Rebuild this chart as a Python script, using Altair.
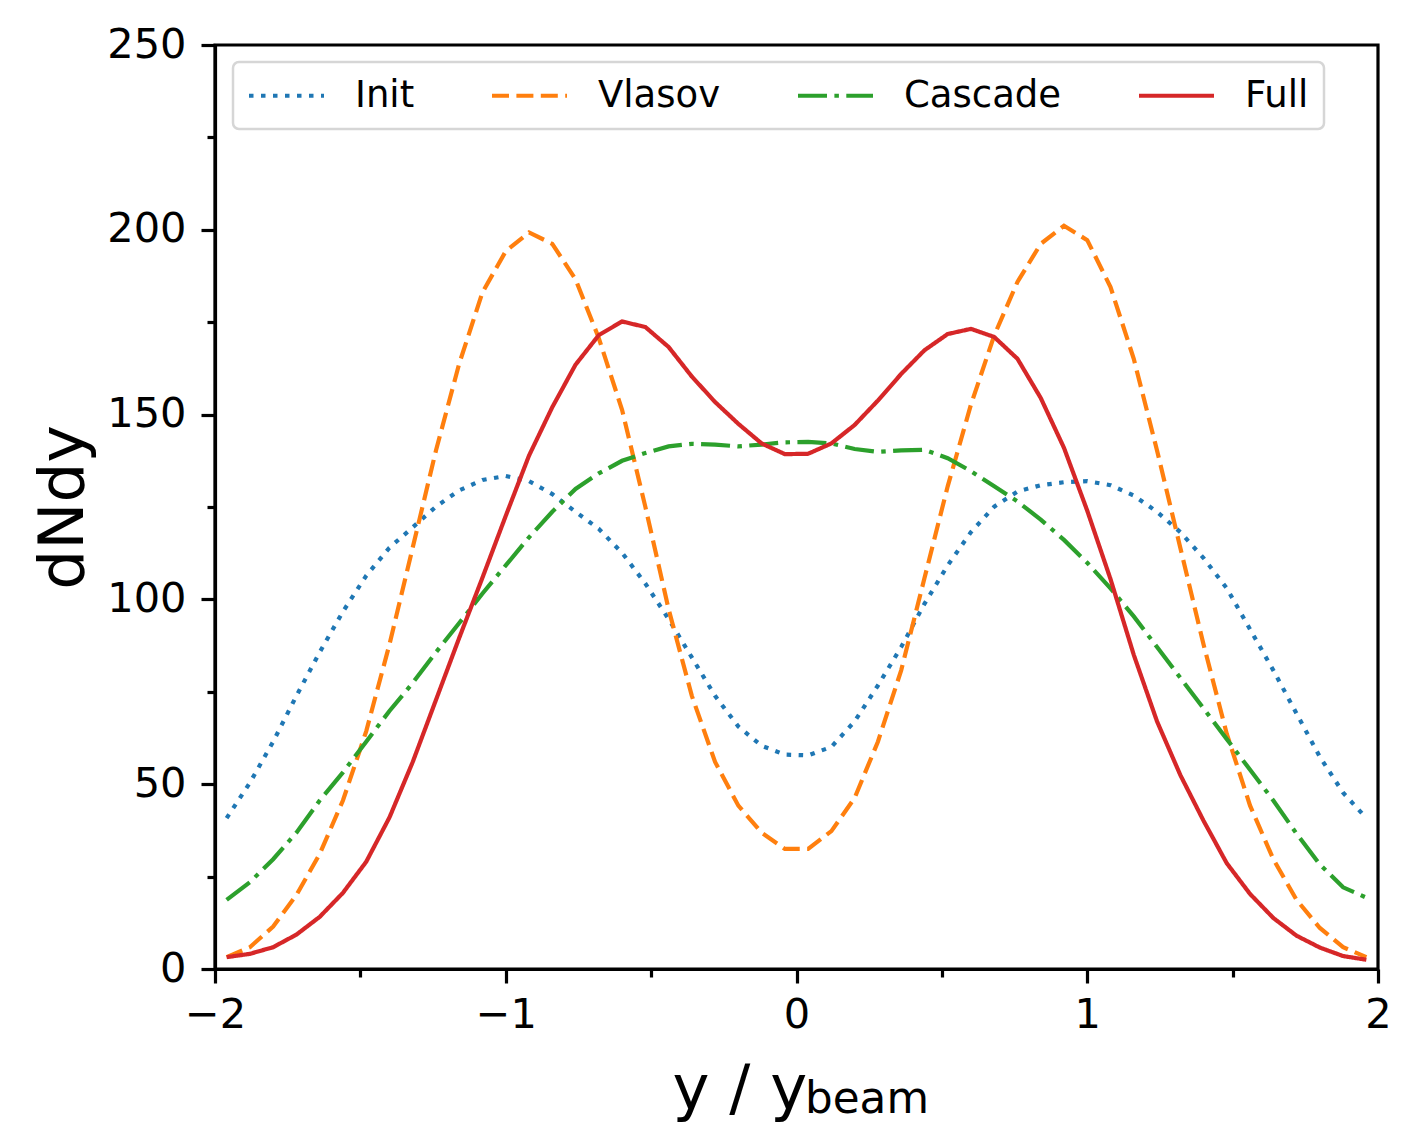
import altair as alt
import pandas as pd

x_vals = [-1.96, -1.88, -1.80, -1.72, -1.64, -1.56, -1.48, -1.40, -1.32, -1.24,
          -1.16, -1.08, -1.00, -0.92, -0.84, -0.76, -0.68, -0.60, -0.52, -0.44,
          -0.36, -0.28, -0.20, -0.12, -0.04, 0.04, 0.12, 0.20, 0.28, 0.36,
          0.44, 0.52, 0.60, 0.68, 0.76, 0.84, 0.92, 1.00, 1.08, 1.16,
          1.24, 1.32, 1.40, 1.48, 1.56, 1.64, 1.72, 1.80, 1.88, 1.96]

init_vals = [40.8, 50.4, 61.5, 73.9, 85.7, 96.7, 106.4, 114.0, 119.5, 125.1,
             129.5, 132.3, 133.4, 132.0, 128.5, 123.7, 119.1, 112.6, 104.3, 94.7,
             84.3, 73.9, 65.6, 60.4, 58.0, 57.8, 60.1, 67.0, 76.7, 87.1,
             98.8, 109.2, 118.2, 125.1, 129.2, 130.9, 131.7, 132.0, 130.9, 128.1,
             123.7, 118.2, 111.2, 103.0, 91.9, 80.8, 69.1, 57.4, 47.7, 40.8]

vlasov_vals = [3.2, 5.9, 11.5, 20.0, 31.1, 45.6, 64.3, 87.8, 114.0, 140.3,
               163.8, 183.1, 194.2, 199.3, 196.2, 186.6, 170.7, 151.3, 125.1, 97.4,
               73.9, 56.0, 44.2, 36.9, 32.5, 32.5, 37.3, 46.3, 61.5, 80.8,
               105.7, 130.6, 152.7, 171.4, 185.9, 196.2, 201.1, 197.2, 184.5, 165.1,
               140.3, 114.0, 87.8, 63.6, 44.2, 29.7, 18.7, 11.1, 5.9, 3.2]

cascade_vals = [18.7, 23.5, 29.7, 36.9, 45.6, 53.2, 61.5, 69.8, 77.4, 85.7,
                93.6, 101.6, 109.2, 116.8, 123.7, 129.9, 134.1, 137.5, 139.6, 141.4,
                142.1, 141.9, 141.4, 141.9, 142.5, 142.6, 142.2, 140.7, 139.9, 140.3,
                140.5, 138.2, 134.7, 130.6, 126.5, 121.6, 116.1, 109.9, 103.0, 95.4,
                87.1, 78.8, 70.5, 62.2, 53.9, 45.6, 36.6, 28.3, 22.1, 19.3]

full_vals = [3.2, 4.1, 5.9, 9.3, 14.1, 20.6, 29.0, 41.0, 56.0, 72.8,
             89.6, 105.9, 122.6, 138.9, 152.0, 163.5, 171.5, 175.2, 173.7, 168.3,
             160.3, 153.4, 147.5, 142.2, 139.3, 139.4, 142.2, 147.2, 153.8, 161.0,
             167.4, 171.8, 173.2, 171.0, 165.1, 154.5, 141.0, 124.0, 105.5, 85.0,
             67.0, 52.5, 40.1, 28.6, 20.3, 13.8, 9.0, 5.8, 3.5, 2.5]

series_names = ["Init", "Vlasov", "Cascade", "Full"]
series_colors = ["#1f77b4", "#ff7f0e", "#2ca02c", "#d62728"]
series_dashes = [[4.5, 7.5], [17, 7.4], [29, 7.4, 4.5, 7.4], [1, 0]]

x_major = [-2, -1, 0, 1, 2]
x_minor = [-1.5, -0.5, 0.5, 1.5]
y_major = [0, 50, 100, 150, 200, 250]
y_minor = [25, 75, 125, 175, 225]

rows = []
for name, vals in zip(series_names, [init_vals, vlasov_vals, cascade_vals, full_vals]):
    for xv, yv in zip(x_vals, vals):
        rows.append({"x": xv, "y": yv, "series": name})
df = pd.DataFrame(rows)

FONT = "DejaVu Sans"
W, H = 1163, 924

xscale = alt.Scale(domain=[-2, 2], nice=False, zero=False)
yscale = alt.Scale(domain=[0, 250], nice=False, zero=False)


def make_legend():
    return alt.Legend(title=None, orient="none", legendX=18, legendY=17,
                      direction="horizontal", symbolType="M-3,0H3",
                      symbolSize=625, symbolStrokeWidth=4.2,
                      labelFontSize=37, labelFont=FONT, labelColor="black",
                      labelLimit=0, columnPadding=68, labelOffset=50,
                      padding=15, symbolOffset=20, strokeColor="#d6d6d6",
                      fillColor="white", cornerRadius=6)


lines = alt.Chart(df).mark_line(strokeWidth=4.2, strokeCap="butt", clip=True).encode(
    x=alt.X("x:Q", scale=xscale,
            axis=alt.Axis(values=x_major, format="d", title="y / y", orient="bottom",
                          titleX=457, titleY=139, titleAlign="left",
                          titleBaseline="alphabetic", titleFontSize=62.5,
                          titleFontWeight="normal", titleFont=FONT)),
    y=alt.Y("y:Q", scale=yscale,
            axis=alt.Axis(values=y_major, format="d", title="dNdy", orient="left",
                          titleX=-133, titleY=462, titleAngle=270,
                          titleAlign="center", titleBaseline="alphabetic",
                          titleFontSize=63, titleFontWeight="normal",
                          titleFont=FONT)),
    color=alt.Color("series:N", scale=alt.Scale(domain=series_names, range=series_colors),
                    sort=series_names, legend=make_legend()),
    strokeDash=alt.StrokeDash("series:N",
                              scale=alt.Scale(domain=series_names, range=series_dashes),
                              sort=series_names, legend=make_legend()),
)

minor = alt.Chart(df).mark_line(opacity=0).encode(
    x=alt.X("x:Q", scale=xscale,
            axis=alt.Axis(values=x_minor, labels=False, title=None, domain=False,
                          tickSize=8, grid=False, orient="bottom")),
    y=alt.Y("y:Q", scale=yscale,
            axis=alt.Axis(values=y_minor, labels=False, title=None, domain=False,
                          tickSize=8, grid=False, orient="left")),
)

sub = alt.Chart(pd.DataFrame({"t": ["beam"]})).mark_text(
    align="left", baseline="alphabetic", fontSize=43.7, font=FONT, color="black"
).encode(text="t:N", x=alt.value(590), y=alt.value(H + 144))

chart = alt.layer(lines, minor, sub).resolve_axis(
    x="independent", y="independent"
).properties(
    width=W, height=H,
    autosize=alt.AutoSizeParams(type="none"),
    padding={"left": 207, "top": 37, "right": 30, "bottom": 165},
).configure(font=FONT).configure_view(
    stroke="black", strokeWidth=3.2
).configure_axis(
    grid=False, domainColor="black", domainWidth=3.2, tickColor="black",
    tickWidth=3.2, tickSize=14, labelFontSize=41.5, labelFont=FONT,
    labelColor="black", labelPadding=11, titleColor="black", labelFlush=False
).configure_axisY(labelPadding=15).configure_legend(strokeWidth=2.5)

chart.save("out.html", embed_options={"renderer": "svg", "actions": False})
